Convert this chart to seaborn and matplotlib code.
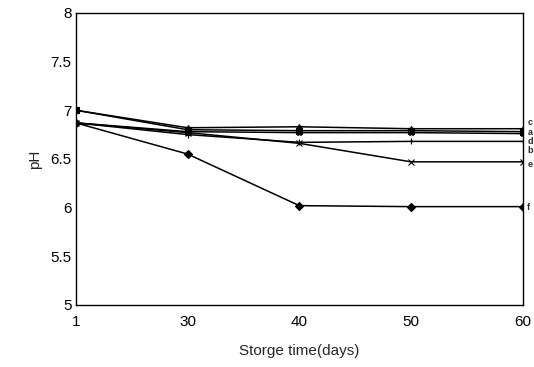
import matplotlib
matplotlib.use("Agg")
import matplotlib.pyplot as plt
import seaborn as sns
import pandas as pd

days = ["1", "30", "40", "50", "60"]
samples = ["c", "a", "d", "b", "e", "f"]
ph_c = [7.00, 6.82, 6.83, 6.81, 6.81]
ph_a = [7.00, 6.80, 6.79, 6.79, 6.78]
ph_d = [6.87, 6.78, 6.77, 6.77, 6.76]
ph_b = [6.87, 6.75, 6.67, 6.68, 6.68]
ph_e = [6.87, 6.77, 6.66, 6.47, 6.47]
ph_f = [6.87, 6.55, 6.02, 6.01, 6.01]
series = [ph_c, ph_a, ph_d, ph_b, ph_e, ph_f]
label_y = [6.87, 6.775, 6.68, 6.585, 6.44, 6.00]

rows = []
for s, vals in zip(samples, series):
    for d, v in zip(days, vals):
        rows.append({"day": d, "pH": v, "sample": s})
df = pd.DataFrame(rows)

sns.set_style("white")
plt.rcParams["font.family"] = ["Liberation Sans", "DejaVu Sans"]

fig = plt.figure(figsize=(5.34, 3.67), dpi=100)
ax = fig.add_axes([0.142, 0.169, 0.837, 0.796])

markers = ["*", "s", "*", "+", "x", "D"]
sns.pointplot(data=df, x="day", y="pH", hue="sample", order=days,
              hue_order=samples, palette=["black"] * 6, markers=markers,
              linestyles="-", markersize=4, linewidth=1.1, ax=ax,
              legend=False, errorbar=None)

ax.set_xlim(0, 4)
ax.set_ylim(5, 8)
ax.set_yticks([5, 5.5, 6, 6.5, 7, 7.5, 8])
ax.set_yticklabels(["5", "5.5", "6", "6.5", "7", "7.5", "8"])
ax.tick_params(axis="both", length=0, labelsize=11, colors="black")
ax.tick_params(axis="x", pad=7)
ax.tick_params(axis="y", pad=3)
ax.set_xlabel("Storge time(days)", fontsize=11, labelpad=11)
ax.set_ylabel("pH", fontsize=11, labelpad=6)
for sp in ax.spines.values():
    sp.set_visible(True)
    sp.set_color("black")
    sp.set_linewidth(1.0)

for s, yv in zip(samples, label_y):
    ax.text(4.04, yv, s, fontsize=6.5, fontweight="bold", va="center",
            ha="left", clip_on=False)

fig.savefig("out.png", dpi=100)
